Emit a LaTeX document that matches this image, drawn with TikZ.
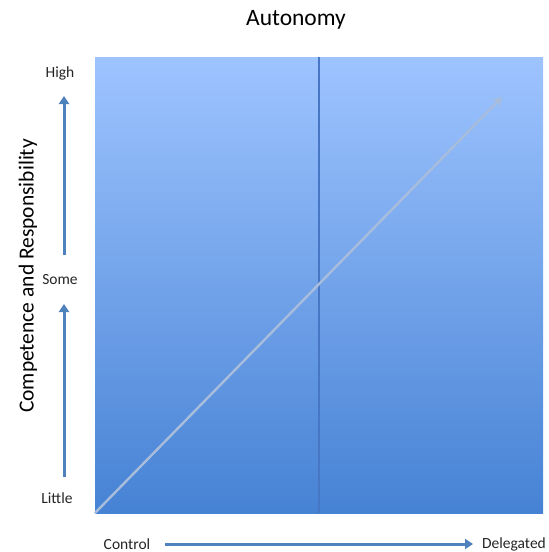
\documentclass[tikz,border=0pt]{standalone}
\usepackage{fontspec}
\setmainfont{Carlito}
\usetikzlibrary{arrows.meta}
\definecolor{paneltop}{RGB}{158,196,255}
\definecolor{panelbottom}{RGB}{70,130,212}
\definecolor{axisblue}{RGB}{79,129,189}
\definecolor{midline}{RGB}{70,118,196}
\definecolor{trend}{RGB}{168,188,220}
\tikzset{
  panel/.style={inner sep=0pt, minimum width=448pt, minimum height=456pt,
    top color=paneltop, bottom color=panelbottom, draw=none},
  lbl/.style={font=\fontsize{15.5}{17}\selectfont, text=black!85, inner sep=0pt},
  axisarrow/.style={draw=axisblue, line width=3pt, -{Triangle[width=10pt,length=8pt]}},
  trendarrow/.style={draw=trend, line width=2.4pt, -{Stealth[width=11pt,length=9pt,inset=3pt]}},
}
\begin{document}
\begin{tikzpicture}[x=1pt,y=-1pt]
  \useasboundingbox[fill=white] (0,0) rectangle (549,552);

  % shaded square and its centre line
  \node[panel] (sq) at (319,285) {};
  \draw[midline, line width=1.2pt] (sq.north) -- (sq.south);

  % rising trend across the square
  \coordinate (trendtip) at (502,97);
  \draw[trendarrow] (sq.south west) -- (trendtip);

  % titles
  \node[font=\fontsize{23.5}{26}\selectfont, inner sep=0pt] (title) at (296,20) {Autonomy};
  \node[font=\fontsize{21.5}{24}\selectfont, rotate=90, inner sep=0pt] (ytitle) at (28,276) {Competence and Responsibility};

  % vertical scale
  \node[lbl] (high) at (60,73) {High};
  \node[lbl] (some) at (60,280) {Some};
  \node[lbl] (little) at (57,498) {Little};
  \coordinate (a1s) at (64,255);
  \coordinate (a1e) at (64,96);
  \coordinate (a2s) at (64,477);
  \coordinate (a2e) at (64,304);
  \draw[axisarrow] (a1s) -- (a1e);
  \draw[axisarrow] (a2s) -- (a2e);

  % horizontal scale
  \node[lbl] (control) at (127,544) {Control};
  \node[lbl] (delegated) at (514,544) {Delegated};
  \coordinate (hs) at (165,544);
  \coordinate (he) at (473,544);
  \draw[axisarrow] (hs) -- (he);
\end{tikzpicture}
\end{document}
